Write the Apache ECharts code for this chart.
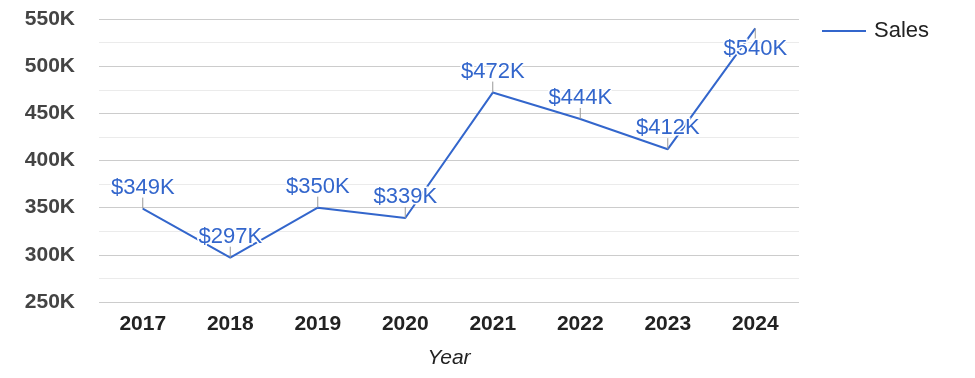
<!DOCTYPE html>
<html>
<head>
<meta charset="utf-8">
<script src="https://cdn.jsdelivr.net/npm/echarts@6/dist/echarts.min.js"></script>
<style>html,body{margin:0;padding:0;background:#fff}#c{width:975px;height:378px}</style>
</head>
<body>
<div id="c"></div>
<script>
const years = ['2017','2018','2019','2020','2021','2022','2023','2024'];
const sales = [349000, 297000, 350000, 339000, 472000, 444000, 412000, 540000];
const yMin = 250000, yMax = 550000, yStep = 50000;

const FONT = '"Liberation Sans", Arial, sans-serif';
const LINE_COLOR = '#3366cc';
const LABEL_SIZE = 22;

const chart = echarts.init(document.getElementById('c'), null, {renderer: 'canvas'});
chart.setOption({
  animation: false,
  backgroundColor: '#fff',
  grid: {left: 99, right: 176, top: 19, bottom: 76, containLabel: false},
  legend: {
    left: 817, top: 15,
    itemWidth: 44, itemHeight: 22,
    textStyle: {fontFamily: FONT, fontSize: 22, color: '#222', padding: [0, 0, 0, 3]},
    data: [{name: 'Sales', icon: 'path://M0,10 L44,10 L44,12 L0,12 Z'}]
  },
  xAxis: {
    type: 'category',
    data: years,
    boundaryGap: true,
    axisLine: {show: false},
    axisTick: {show: false},
    axisLabel: {fontFamily: FONT, fontSize: 21, fontWeight: 'bold', color: '#222', margin: 12},
    name: 'Year',
    nameLocation: 'middle',
    nameGap: 46,
    nameTextStyle: {fontFamily: FONT, fontSize: 21, fontStyle: 'italic', color: '#222'}
  },
  yAxis: {
    type: 'value',
    min: yMin, max: yMax, interval: yStep,
    axisLine: {show: false},
    axisTick: {show: false},
    axisLabel: {
      fontFamily: FONT, fontSize: 21, fontWeight: 'bold', color: '#444', margin: 24,
      formatter: v => (v / 1000) + 'K'
    },
    splitLine: {lineStyle: {color: '#cccccc', width: 1}},
    minorTick: {show: false, splitNumber: 2},
    minorSplitLine: {show: true, lineStyle: {color: '#ebebeb', width: 1}}
  },
  series: [
    {
      name: 'Sales',
      type: 'line',
      data: sales,
      symbol: 'none',
      lineStyle: {color: LINE_COLOR, width: 2},
      itemStyle: {color: LINE_COLOR},
      z: 2
    },
    {
      name: 'labels',
      type: 'custom',
      data: sales.map((v, i) => [i, v]),
      z: 5,
      silent: true,
      renderItem: function (params, api) {
        const p = api.coord([api.value(0), api.value(1)]);
        const v = api.value(1);
        const stem = 11;
        const below = (p[1] - stem - LABEL_SIZE) < 0;
        const dir = below ? 1 : -1;
        return {
          type: 'group',
          children: [
            {
              type: 'line',
              shape: {x1: p[0], y1: p[1], x2: p[0], y2: p[1] + dir * stem},
              style: {stroke: '#999999', lineWidth: 1}
            },
            {
              type: 'text',
              style: {
                text: '$' + Math.round(v / 1000) + 'K',
                x: p[0],
                y: p[1] + dir * (stem - 1),
                align: 'center',
                verticalAlign: below ? 'top' : 'bottom',
                fontFamily: FONT,
                fontSize: LABEL_SIZE,
                fill: LINE_COLOR,
                stroke: '#ffffff',
                lineWidth: 3
              }
            }
          ]
        };
      }
    }
  ]
});
</script>
</body>
</html>
